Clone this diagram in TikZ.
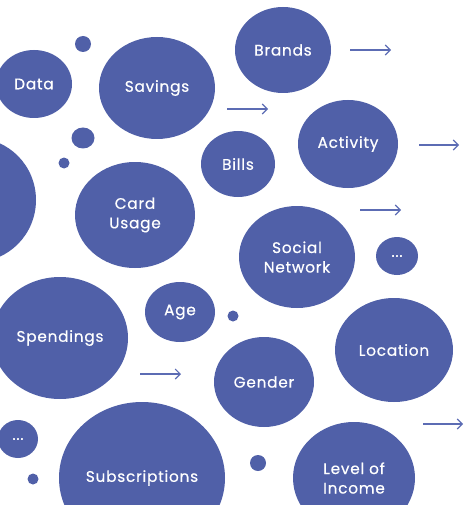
\documentclass[tikz,border=0pt]{standalone}
\usepackage{fontspec}
\setmainfont{Poppins}
\newfontfamily\bubfont[LetterSpace=5,FakeBold=0.5]{Poppins}
\usetikzlibrary{shapes.geometric,arrows.meta}
\definecolor{bub}{RGB}{80,96,168}
\definecolor{arr}{RGB}{92,108,180}
\tikzset{
  bubble/.style={ellipse, fill=bub, draw=none, text=white, inner sep=0pt, align=center, font=\bubfont\fontsize{15.3}{19.5}\selectfont},
  dotb/.style={circle, fill=bub, draw=none, inner sep=0pt},
  flow/.style={draw=arr, line width=1.1pt, -{Straight Barb[length=5pt,width=10pt,line width=1.1pt]}}
}
\begin{document}
\begin{tikzpicture}[x=1pt,y=-1pt]
\useasboundingbox (0,0) rectangle (463,505);
\clip (0,0) rectangle (463,505);
% big bubbles
\node[bubble, minimum width=76pt, minimum height=68pt] (data) at (34,84) {Data};
\node[bubble, minimum width=116pt, minimum height=102pt] (savings) at (157,88) {Savings};
\node[bubble, minimum width=122pt, minimum height=124pt] (left) at (-25,200) {};
\node[bubble, minimum width=120pt, minimum height=106pt] (card) at (135,215) {Card\\Usage};
\node[bubble, minimum width=96pt, minimum height=86pt] (brands) at (283,50) {Brands};
\node[bubble, minimum width=100pt, minimum height=88pt] (activity) at (348,144) {Activity};
\node[bubble, minimum width=74pt, minimum height=66pt] (bills) at (238,164) {Bills};
\node[bubble, minimum width=116pt, minimum height=102pt] (social) at (297,257) {Social\\Network};
\node[bubble, minimum width=42pt, minimum height=38pt] (dotsr) at (397,256) {...};
\node[bubble, minimum width=118pt, minimum height=104pt] (location) at (394,350) {Location};
\node[bubble, minimum width=100pt, minimum height=90pt] (gender) at (264,382) {Gender};
\node[bubble, minimum width=122pt, minimum height=112pt] (income) at (354,478) {Level of\\Income};
\node[bubble, minimum width=136pt, minimum height=122pt] (spend) at (60,338) {Spendings};
\node[bubble, minimum width=70pt, minimum height=60pt] (age) at (180,312) {Age};
\node[bubble, minimum width=40pt, minimum height=38pt] (dotsl) at (18,439) {...};
\node[bubble, minimum width=166pt, minimum height=152pt] (subs) at (142,478) {Subscriptions};
% small dots
\node[dotb, minimum size=16pt] (d1) at (83,44) {};
\node[dotb, minimum width=23pt, minimum height=21pt, ellipse] (d2) at (83,138) {};
\node[dotb, minimum size=11pt] (d3) at (64,163) {};
\node[dotb, minimum size=11pt] (d4) at (233,316) {};
\node[dotb, minimum size=16pt] (d5) at (258,463) {};
\node[dotb, minimum size=11pt] (d6) at (33,479) {};
% arrows
\coordinate (a1s) at (350,50); \coordinate (a1e) at (391,50);
\coordinate (a2s) at (227,109); \coordinate (a2e) at (268,109);
\coordinate (a3s) at (419,145); \coordinate (a3e) at (459,145);
\coordinate (a4s) at (360,210); \coordinate (a4e) at (401,210);
\coordinate (a5s) at (140,374); \coordinate (a5e) at (181,374);
\coordinate (a6s) at (423,424); \coordinate (a6e) at (463,424);
\draw[flow] (a1s) -- (a1e);
\draw[flow] (a2s) -- (a2e);
\draw[flow] (a3s) -- (a3e);
\draw[flow] (a4s) -- (a4e);
\draw[flow] (a5s) -- (a5e);
\draw[flow] (a6s) -- (a6e);
\end{tikzpicture}
\end{document}
